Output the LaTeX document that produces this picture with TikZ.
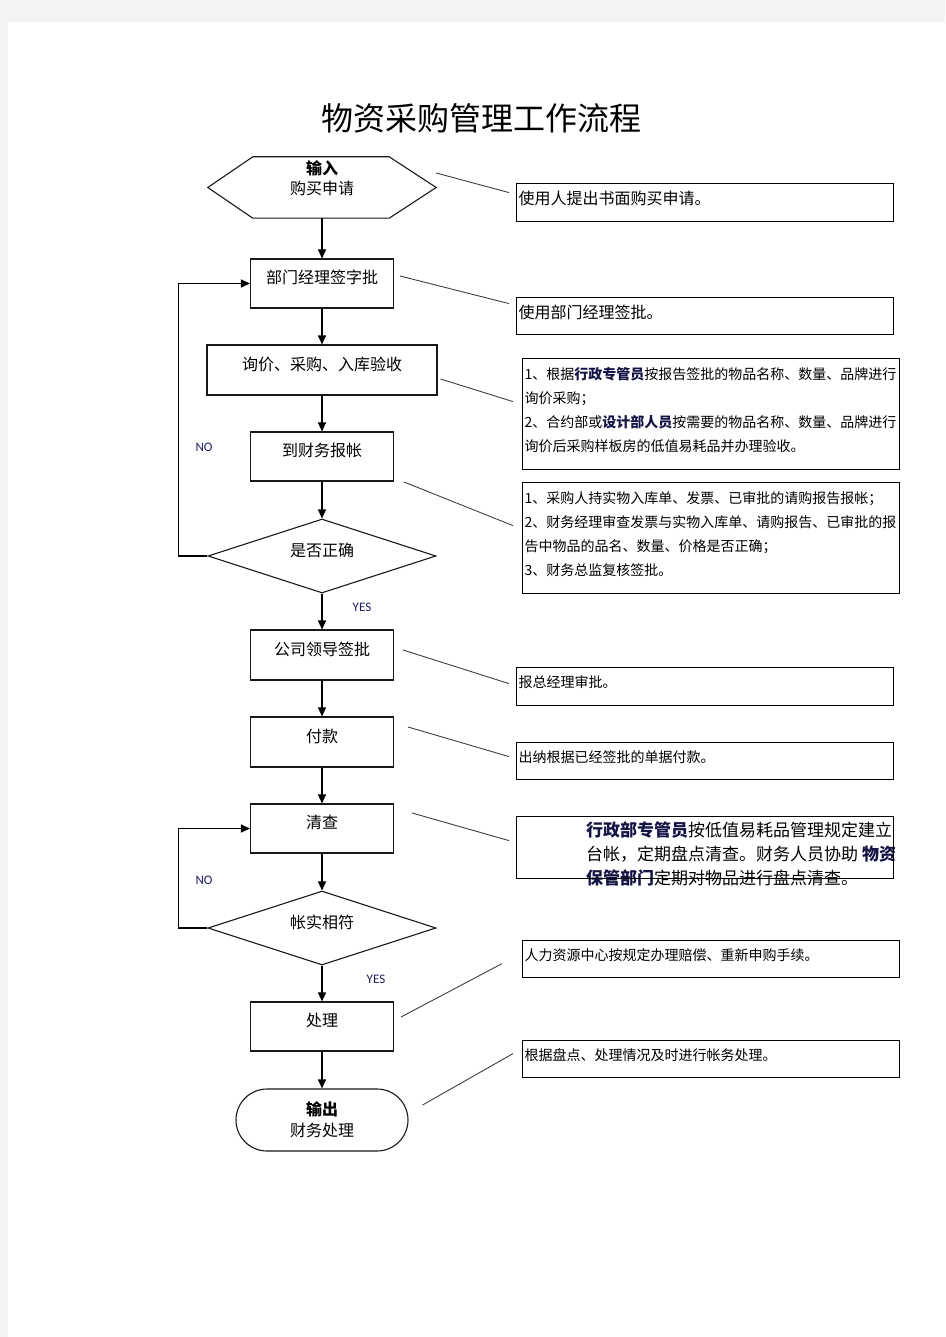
\documentclass[tikz,border=0pt]{standalone}
\usepackage{fontspec}
\setmainfont{Noto Sans CJK SC}
\newfontfamily\yesnofont{Carlito}
\usetikzlibrary{shapes.geometric,arrows.meta}
\definecolor{pagegray}{RGB}{243,243,243}
\definecolor{keyblue}{RGB}{20,20,70}
\definecolor{yesblue}{RGB}{30,30,100}
\newcommand{\keyword}[1]{\textcolor{keyblue}{\bfseries #1}}

\begin{document}
\begin{tikzpicture}[x=1pt,y=-1pt,
    flowline/.style={draw=black!90,line width=1.1pt},
    hexbox/.style={rectangle,minimum width=228pt,minimum height=61pt,inner sep=0pt},
    stepbox/.style={flowline,rectangle,minimum width=143pt,minimum height=49pt,inner sep=0pt,
      text height=10pt,text depth=10pt,font=\fontsize{16}{19}\selectfont},
    choice/.style={flowline,diamond,aspect=3,minimum width=228pt,minimum height=74pt,inner sep=0pt,
      text height=10pt,text depth=10pt,font=\fontsize{16}{19}\selectfont},
    endbox/.style={flowline,rectangle,rounded corners=31pt,minimum width=172pt,minimum height=62pt,
      align=center,font=\fontsize{16}{21}\selectfont},
    note/.style={draw,line width=1.2pt,anchor=north west,minimum width=377pt,inner xsep=2pt,
      text width=373pt,align=left,execute at end node={\endgraf\vspace*{8pt}}},
    flowarrow/.style={line width=1.1pt,-{Triangle[length=9pt,width=8pt]}},
    noteline/.style={draw=black!75,line width=0.9pt},
    yesno/.style={text=yesblue,font=\yesnofont\fontsize{13}{15}\selectfont,inner sep=0pt}]

  % page
  \fill[pagegray] (0,0) rectangle (945,1337);
  \fill[white] (8,22) rectangle (945,1337);

  \node[font=\fontsize{32}{38}\selectfont] (title) at (481,118) {物资采购管理工作流程};

  % flow
  \node[hexbox,label={[align=center,font=\fontsize{16}{20}\selectfont,yshift=9.5pt]center:{\textbf{输入}\\购买申请}}] (inp) at (322,187.5) {};
  \draw[flowline] (inp.west) -- ([xshift=45pt]inp.north west) -- ([xshift=-47pt]inp.north east)
    -- (inp.east) -- ([xshift=-47pt]inp.south east) -- ([xshift=45pt]inp.south west) -- cycle;
  \node[stepbox] (mgr) at (322,283.5) {部门经理签字批};
  \node[stepbox,minimum width=230pt,minimum height=50pt] (inq) at (322,370) {询价、采购、入库验收};
  \node[stepbox] (fin) at (322,456.5) {到财务报帐};
  \node[choice] (ok) at (322,556) {是否正确};
  \node[stepbox,minimum height=50pt] (lead) at (322,655) {公司领导签批};
  \node[stepbox,minimum height=50pt] (pay) at (322,742) {付款};
  \node[stepbox] (chk) at (322,828.5) {清查};
  \node[choice] (match) at (322,928) {帐实相符};
  \node[stepbox] (proc) at (322,1026.5) {处理};
  \node[endbox] (out) at (322,1120) {\textbf{输出}\\财务处理};

  \draw[flowarrow] (inp.south) -- (mgr);
  \draw[flowarrow] (mgr) -- (inq);
  \draw[flowarrow] (inq) -- (fin);
  \draw[flowarrow] (fin) -- (ok);
  \draw[flowarrow] (ok) -- (lead);
  \draw[flowarrow] (lead) -- (pay);
  \draw[flowarrow] (pay) -- (chk);
  \draw[flowarrow] (chk) -- (match);
  \draw[flowarrow] (match) -- (proc);
  \draw[flowarrow] (proc) -- (out);
  \draw[flowarrow] (ok.west) -- ++(-29,0) |- (mgr.west);
  \draw[flowarrow] (match.west) -- ++(-29,0) |- (chk.west);

  \node[yesno] (no1) at (204,447) {NO};
  \node[yesno] (yes1) at (362,607) {YES};
  \node[yesno] (no2) at (204,880) {NO};
  \node[yesno] (yes2) at (376,979) {YES};

  % notes
  \node[note,minimum height=38pt,font=\fontsize{16}{20}\selectfont] (n1) at (516,183) {使用人提出书面购买申请。};
  \node[note,minimum height=37pt,font=\fontsize{16}{20}\selectfont] (n2) at (516,297) {使用部门经理签批。};
  \node[note,minimum height=111pt,font=\fontsize{14}{24}\selectfont] (n3) at (522,358)
    {1、根据\keyword{行政专管员}按报告签批的物品名称、数量、品牌进行\\询价采购；\\2、合约部或\keyword{设计部人员}按需要的物品名称、数量、品牌进行\\询价后采购样板房的低值易耗品并办理验收。};
  \node[note,minimum height=111pt,font=\fontsize{14}{24}\selectfont] (n4) at (522,482)
    {1、采购人持实物入库单、发票、已审批的请购报告报帐；\\2、财务经理审查发票与实物入库单、请购报告、已审批的报\\告中物品的品名、数量、价格是否正确；\\3、财务总监复核签批。};
  \node[note,minimum height=38pt,font=\fontsize{14}{20}\selectfont] (n5) at (516,667) {报总经理审批。};
  \node[note,minimum height=37pt,font=\fontsize{14}{20}\selectfont] (n6) at (516,742) {出纳根据已经签批的单据付款。};
  \node[anchor=north west,inner sep=0pt,align=left,font=\fontsize{17}{24}\selectfont] (n7text) at (586,821.5)
    {\keyword{行政部专管员}按低值易耗品管理规定建立\\台帐，定期盘点清查。财务人员协助 \keyword{物资}\\\keyword{保管部门}定期对物品进行盘点清查。};
  \node[note,minimum height=62pt] (n7) at (516,816) {};
  \node[note,minimum height=37pt,font=\fontsize{14}{20}\selectfont] (n8) at (522,940) {人力资源中心按规定办理赔偿、重新申购手续。};
  \node[note,minimum height=37pt,font=\fontsize{14}{20}\selectfont] (n9) at (522,1040) {根据盘点、处理情况及时进行帐务处理。};

  \draw[noteline] ([shift={(0,-14.5)}]inp.east) -- ([shift={(-7,-10)}]n1.west);
  \draw[noteline] ([shift={(6,-7.5)}]mgr.east) -- ([shift={(-7,-12.5)}]n2.west);
  \draw[noteline] ([shift={(3,9)}]inq.east) -- ([shift={(-9,-12.5)}]n3.west);
  \draw[noteline] ([shift={(10,25.5)}]fin.east) -- ([shift={(-9,-12.5)}]n4.west);
  \draw[noteline] ([shift={(9,-5)}]lead.east) -- ([shift={(-7,-3)}]n5.west);
  \draw[noteline] ([shift={(14,-15)}]pay.east) -- ([shift={(-7,-4.5)}]n6.west);
  \draw[noteline] ([shift={(18,-15.5)}]chk.east) -- ([shift={(-7,-7)}]n7.west);
  \draw[noteline] ([shift={(7,-9.5)}]proc.east) -- ([shift={(-20,4.5)}]n8.west);
  \draw[noteline] ([shift={(14,-15)}]out.east) -- ([shift={(-9,-5.5)}]n9.west);
\end{tikzpicture}
\end{document}
